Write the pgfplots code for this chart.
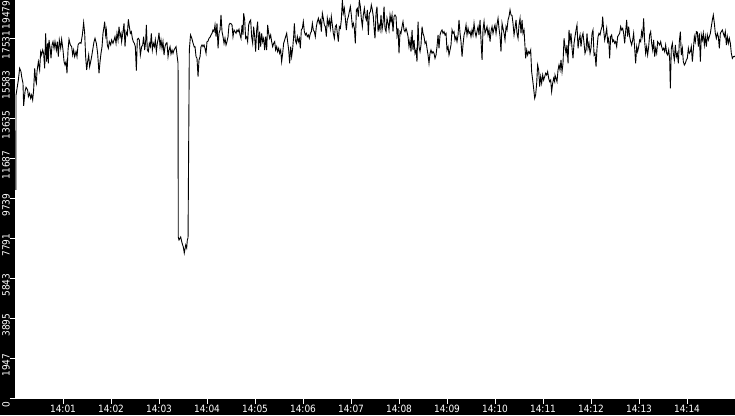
\documentclass[border=0pt]{standalone}
\usepackage{fontspec}
\usepackage{pgfplots}
\pgfplotsset{compat=1.18}
\newfontfamily\tickfont[FakeStretch=0.9]{DejaVu Sans}

% seconds after 14:00:00, value
\pgfplotstableread{
s v
1 10154
1.3 14781
4.2 15512
5.8 16080
7.5 15917
8.3 15674
10 15350
10.8 14246
12.5 14944
13.8 15155
15.8 15025
16.7 14700
18.3 14863
19.6 14619
20.8 14781
22.1 14538
23.3 15025
24.6 16080
25.8 15512
26.7 15350
27.5 15917
29.2 16404
30.8 15999
32.1 16891
33.3 16729
34.6 16972
35.8 16810
37.1 16080
38.3 17784
39.6 16404
40.8 17297
41.7 16323
42.5 17459
44.2 16972
45 16567
46.3 17216
47.5 17378
48.8 17054
50 17378
51.7 16972
52.9 17378
54.2 16648
55.4 17459
57.1 17054
58.3 17492
60 16972
61.3 16404
62.5 16242
63.8 16404
65 15836
66.3 16972
67.5 17492
69.2 17216
70.8 17135
72.1 16729
73.3 16972
74.6 16648
76.3 16891
77.5 16648
78.8 17216
80 17297
81.3 17330
82.5 17297
84.2 17703
85.8 18303
87.1 17784
88.3 16648
89.6 15999
90.8 16404
92.1 16729
93.3 16161
94.6 16404
95.8 16648
97.1 16972
98.8 17378
100 17541
101.7 17297
103.3 16810
105 15836
106.3 16404
107.5 16810
108.8 17135
110 17784
111.3 18109
112.1 18352
113.3 17703
114.2 17946
115.4 17216
116.7 17054
117.9 17378
119.6 17216
120.8 17459
122.5 17297
123.8 17459
125 17622
126.3 17297
127.5 17784
128.8 17459
130 18109
131.3 17622
132.5 17784
133.3 17378
135 17865
136.3 18271
137.5 17135
138.8 17865
140.4 17703
141.7 18466
142.9 18109
144.2 17784
145.4 17865
146.7 17541
147.9 17378
149.2 17297
150.4 17135
151.7 15966
152.9 17492
154.2 17541
155.4 17459
156.7 16729
158.3 17135
159.6 17216
160.8 17622
162.1 16972
163.3 17378
164.2 18190
165.4 16972
166.7 16891
167.9 17297
169.2 17135
170.4 17784
171.7 16972
172.9 17297
174.2 17135
175.4 17459
176.7 16891
177.9 17297
179.2 17541
180 17817
181.3 17135
182.5 17459
183.8 17054
185 17378
186.3 16729
187.5 17135
188.8 17297
190 17330
191.3 16648
192.5 16972
193.8 17135
195 16778
196.3 16972
197.5 16810
198.8 16972
200 17054
201.3 17135
202.5 16729
203.8 16323
204.1 7865
205 7719
207.1 7865
208.8 7573
210.4 7378
211.6 7086
213.4 7475
214.6 7329
215.4 7719
216.3 7816
217.9 16972
219.4 17702
220.9 17556
222.5 17313
224.1 17118
225 17135
226.3 16648
227.5 16567
228.8 15674
230 16486
231.3 16648
232.5 17135
233.8 17216
235 17135
236.3 17216
237.5 17054
238.8 16810
240 17378
241.3 17400
242.5 17541
243.8 17589
245 17703
246.3 17784
247.5 17946
248.8 17865
250 18190
251.3 17622
252.5 18271
253.8 17054
255 17784
256.3 17946
257.5 18677
258.8 17865
260 17622
261.3 17297
262.5 17541
263.8 17216
265 17378
266.3 17622
267.5 18190
268.8 18271
270 18250
271.3 18190
272.5 17622
273.8 17946
275 17865
276.3 17784
277.5 17946
278.8 17865
280 17979
281.3 17703
282.5 17541
283.8 18190
285 17703
285.8 18758
287.1 18433
288.3 17541
289.6 17622
290.8 17378
292.1 18190
293.3 18352
294.6 18433
295.8 17622
297.1 17297
298.3 18109
299.6 17622
300.8 16891
302.1 17946
303.3 18352
304.6 16972
305.8 17865
307.1 17135
308.3 17784
309.6 17378
310.8 17541
312.1 16972
313.3 17622
314.6 16972
315.8 18190
317.1 17784
318.3 17541
319.6 17703
320.8 17378
322.1 17135
323.3 17297
324.6 17378
325.8 16972
327.1 17135
328.3 16891
329.6 17054
330.8 16810
332.1 16972
333.3 16404
334.6 16810
335.8 17297
337.1 17459
338.3 17622
339.6 17784
340.8 17378
342.1 16972
343.3 16323
344.6 17135
345.8 16648
347.1 17054
348.3 17622
349.2 18271
350.4 17459
351.7 17297
352.9 17622
354.2 17378
355.4 17541
356.7 17054
357.9 17946
359.2 18027
360.4 18352
361.7 17865
362.9 17703
364.2 17784
365.4 17622
366.7 17703
367.9 17541
369.2 17784
370.4 17865
371.7 18271
372.9 17946
374.2 17865
375.4 17622
376.7 18109
377.9 18352
379.2 18514
380.4 18271
381.7 18433
382.9 17865
384.2 18758
385.4 18514
386.7 18190
387.9 18109
389.2 17622
390.4 18514
391.7 18190
392.9 18433
394.2 18027
395.4 18596
396.7 18190
397.9 17784
399.2 17541
400.4 18109
401.7 18190
402.9 17784
404.2 17378
405.4 18109
406.7 18027
407.9 18433
409.2 19407
410.4 18758
411.7 19001
412.9 18514
414.2 17946
415.4 18433
416.7 18596
417.9 18839
419.2 19083
420.4 18677
421.7 18109
422.9 18271
424.2 18027
425.4 17297
426.7 18920
427.9 19001
429.2 18596
430.4 19407
431.7 19083
432.9 18514
434.2 18109
435.4 18677
436.7 19001
437.9 18596
439.2 18433
440.4 18920
441.7 17703
442.9 18758
444.2 18839
445.4 19164
446.7 18920
447.9 18596
449.2 17865
450 17541
451.3 18758
452.5 19083
453.8 17865
455 18190
456.3 17946
457.5 18677
458.8 17946
460 18271
461.3 19083
462.5 18027
463.8 17865
465 18514
466.3 18271
467.5 17946
468.8 18677
470 18352
471.3 18677
472.5 17865
473.8 18596
475 18677
476.3 18596
477.5 17703
478.8 18027
480 16810
481.3 17865
482.5 17784
483.8 18109
485 18352
486.3 17946
487.5 17865
488.8 18027
490 17865
491.3 17622
492.5 17135
493.8 17459
495 16891
496.3 17946
497.5 16972
498.8 17459
500 16810
501.3 16972
502.5 16404
503.8 18352
505 17135
506.3 16891
507.5 17216
508.8 18109
510 17784
511.3 17622
512.5 17297
513.8 17378
515 17054
516.3 16729
517.5 16323
518.8 16810
520 16972
521.3 16810
522.5 16891
523.8 16810
525 16567
526.3 16729
527.5 17135
528.8 17703
530 17054
531.3 17703
532.5 17865
533.8 17946
535 17784
536.3 17865
537.5 17703
538.8 17784
540 16972
541.3 17135
542.5 16729
543.8 16972
545 17216
546.3 17946
547.5 17784
548.8 17865
550 17459
551.3 17622
552.5 17378
553.8 17703
555 18433
556.3 17784
557.5 17378
558.8 16648
560 17216
561.3 17703
562.5 17865
563.8 18190
565 17703
566.3 18027
567.5 17784
568.8 17865
570 17622
571.3 17946
572.5 17703
573.8 18271
575 17865
576.3 17622
577.5 17865
578.8 18109
580 17703
581.3 18433
582.5 17459
583.8 16486
585 17946
586.3 18352
587.5 17784
588.8 17946
590 18109
591.3 17703
592.5 17946
593.8 17378
595 17865
596.3 18109
597.5 17784
598.8 18027
600 18190
601.3 17784
602.5 18190
603.8 18514
605 18027
606.3 17622
607.5 16891
608.8 18271
610 18027
611.3 17784
612.5 17459
613.8 18109
615 17946
616.3 18433
617.5 18596
618.8 18920
620 18677
621.3 18650
622.5 18271
623.8 17703
625 18027
626.3 18433
627.5 17784
628.8 17541
630 18190
631.3 18514
632.5 17784
633.8 18433
635 17784
636.3 17946
637.5 17135
638.3 16567
639.6 16972
640.8 16729
642.1 16891
643.3 16810
644.6 16972
645.8 15917
647.1 15512
648.3 15106
649.6 14619
650.8 14781
652.1 15350
653.3 16242
654.6 15999
655.8 15187
657.1 15674
658.3 15350
659.6 15755
660.8 15512
662.1 15674
663.3 15836
664.6 15755
665.8 15917
667.1 15593
668.3 15431
669.6 15512
670.8 14944
672.1 15350
673.3 15593
674.6 15431
675 15755
676.3 15593
677.5 15431
678.8 15999
680 16242
681.3 15999
682.5 16486
683.8 15917
685 16323
686.3 17541
687.5 17135
688.8 16810
690 17216
691.3 16323
692.5 17946
693.8 17378
695 17784
696.3 17054
697.5 16567
698.8 17297
700 17622
701.3 17946
702.5 18190
703.8 17054
705 17459
706.3 17703
707.5 17135
708.8 17622
710 17784
711.3 17297
712.5 16810
713.8 16972
715 17784
716.3 17054
717.5 17297
718.8 16810
720 17054
721.3 17784
722.5 17946
723.8 16729
725 16810
726.3 16161
727.5 17054
728.8 17622
730 17784
731.3 17703
732.5 17946
733.8 18109
734.6 18596
735.8 17946
737.1 17459
738.3 17703
739.6 18027
740.8 17378
742.1 17541
743.3 16567
744.6 17622
745.8 17703
747.1 17378
748.3 17459
749.6 17297
750.8 17378
752.1 17135
753.3 17622
754.6 17703
755.8 17784
757.1 18109
758.3 17946
759.6 18027
760.8 17784
762.1 17297
763.3 17865
764.6 18433
765.8 17622
767.1 18109
768.3 17622
769.6 17378
770.8 17216
772.1 17459
773.3 17784
774.6 17054
775.8 16323
777.1 17135
778.3 16891
779.6 17135
780.8 17459
782.1 17378
783.3 17865
784.6 17622
785.8 18514
787.1 17378
788.3 16810
789.6 17135
790.8 16729
792.1 17135
793.3 17703
794.6 17865
795.8 17297
797.1 16972
798.3 17459
799.6 16648
800.8 17054
802.1 16810
803.3 17378
804.6 17297
805.8 17216
807.1 17378
808.3 17135
809.6 16972
810.8 17054
812.1 16891
813.3 17216
814.6 16810
815.8 16729
817.1 16972
818.3 16567
819.2 15106
820.4 17054
821.7 17297
822.9 16810
824.2 16486
825.4 17216
826.7 16648
827.9 16810
829.2 16323
830.4 17378
831.7 17865
832.9 16729
834.2 17054
835.4 16404
836.7 16242
837.9 16323
839.2 16486
840.4 16567
841.7 17054
842.9 16810
844.2 16891
845.4 17135
846.7 16404
847.9 16972
849.2 17622
850.4 17378
851.7 17865
852.9 17840
854.2 17135
855.4 17784
856.7 16404
857.9 17703
859.2 17459
860.4 17784
861.7 17216
862.9 17622
864.2 17135
865.4 17703
866.7 17459
867.9 17622
869.2 17784
870.4 18109
871.7 18433
872.9 18677
874.2 18271
875.4 17784
876.7 17541
877.9 17784
879.2 17622
880.4 17054
881.7 17784
882.9 17865
884.2 17946
885.4 17784
886.7 17622
887.9 17865
889.2 17216
890.4 17622
891.7 17297
892.9 17541
894.2 17297
895.4 16810
896.7 16567
897.9 16648
899.2 16648
900 16680
}\series

\begin{document}
\begin{tikzpicture}[x=1pt,y=1pt]
\fill[black] (0,0) rectangle (735,415);
\useasboundingbox (0,0) rectangle (735,415);
\begin{axis}[
    at={(15pt,16.5pt)}, anchor=south west,
    scale only axis,
    width=720pt, height=400pt,
    xmin=0, xmax=900,
    ymin=0, ymax=19479,
    axis background/.style={fill=white},
    axis line style={draw=none},
    tick pos=left,
    tick align=outside,
    major tick length=5pt,
    tick style={white, line width=0.8pt},
    xtick={60,120,180,240,300,360,420,480,540,600,660,720,780,840},
    xticklabels={14:01,14:02,14:03,14:04,14:05,14:06,14:07,14:08,14:09,14:10,14:11,14:12,14:13,14:14},
    ytick={0,1947.9,3895.8,5843.7,7791.6,9739.5,11687.4,13635.3,15583.2,17531.1,19479},
    yticklabels={0,1947,3895,5843,7791,9739,11687,13635,15583,17531,19479\hspace*{20pt}},
    ticklabel style={font=\tickfont\fontsize{10}{10}\selectfont, text=white, inner sep=0pt},
    xticklabel style={anchor=north, yshift=-1.5pt},
    yticklabel style={rotate=90, anchor=south, xshift=-6.5pt},
]
\addplot[black, line width=0.9pt, mark=none] table[x=s, y=v] {\series};
\end{axis}
\end{tikzpicture}
\end{document}
